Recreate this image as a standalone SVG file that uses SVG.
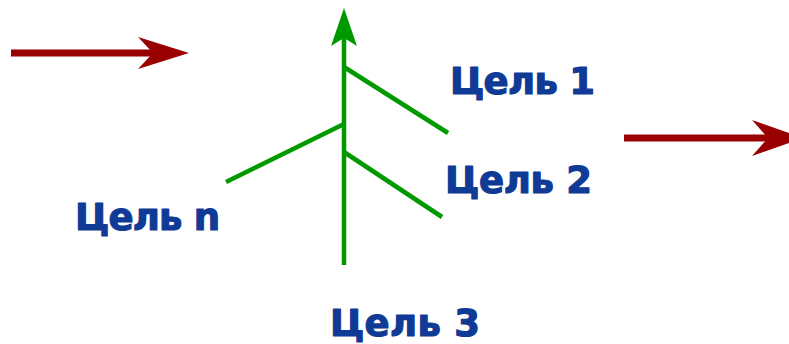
<svg xmlns="http://www.w3.org/2000/svg" width="789" height="344" viewBox="0 0 789 344">
<style>
.red{stroke:#990000;stroke-width:7;fill:none}
.redh{fill:#990000}
.grn{stroke:#009900;stroke-width:4.5;fill:none;stroke-linecap:butt}
.lbl{font-family:"DejaVu Sans",sans-serif;font-weight:bold;font-size:37px;fill:#0f3a96;stroke:#0f3a96;stroke-width:1.2;stroke-linejoin:round}
</style>
<rect width="789" height="344" fill="#ffffff"/>
<g id="connectors">
<line class="red" x1="11" y1="53" x2="160" y2="53"/>
<polygon class="redh" points="189,53 138,37 153,53 138,69"/>
<line class="red" x1="624" y1="138" x2="775" y2="138"/>
<polygon class="redh" points="803,138 752,120 768,138 752,156"/>
<line class="grn" x1="344" y1="265" x2="344" y2="30"/>
<polygon fill="#009900" points="344,8 357,46 344,38 331,46"/>
<line class="grn" x1="344" y1="67" x2="448" y2="133"/>
<line class="grn" x1="344" y1="152" x2="442" y2="217"/>
<line class="grn" x1="344" y1="124" x2="226" y2="182"/>
</g>
<g id="goal1"><text class="lbl" x="450" y="94" textLength="145">Цель 1</text></g>
<g id="goal2"><text class="lbl" x="445" y="193" textLength="147">Цель 2</text></g>
<g id="goaln"><text class="lbl" x="75" y="230" textLength="145">Цель n</text></g>
<g id="goal3"><text class="lbl" x="330" y="336" textLength="150">Цель 3</text></g>
</svg>
